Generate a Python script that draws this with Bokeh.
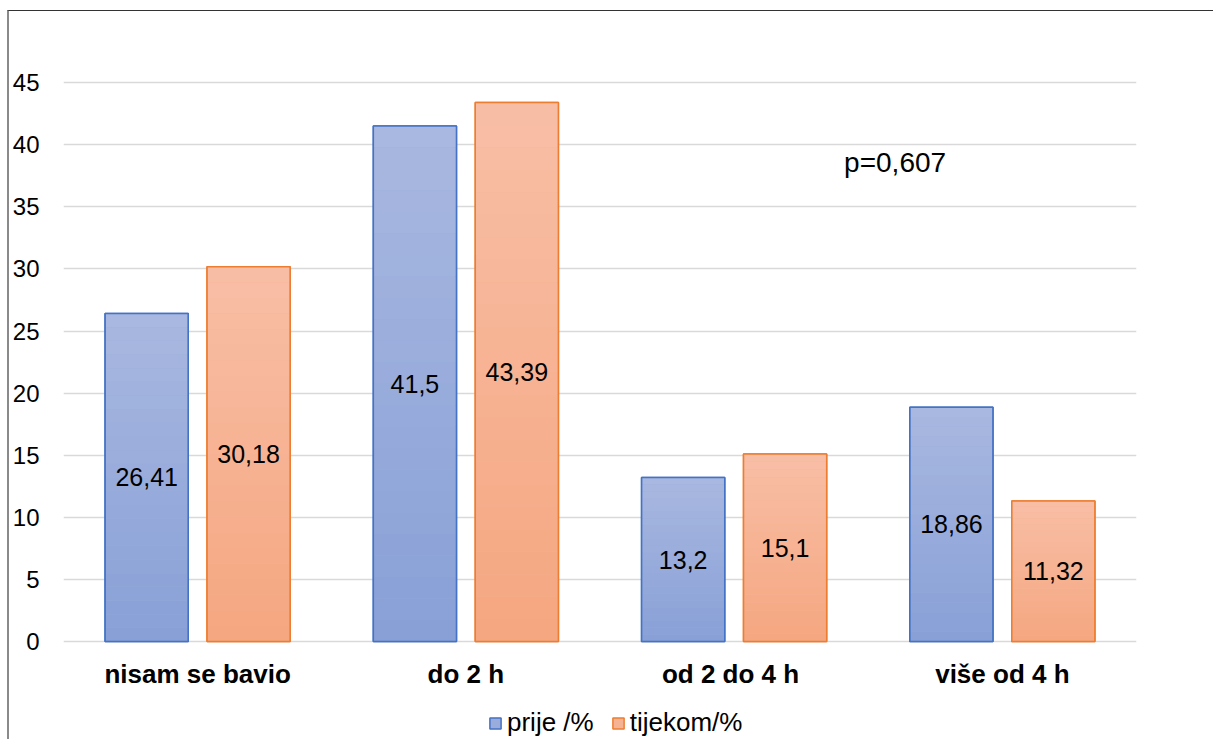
from bokeh.plotting import figure
from bokeh.models import FactorRange, FixedTicker, Legend, LegendItem, Label, ColumnDataSource
from bokeh.transform import dodge
from bokeh.core.properties import value
from bokeh.embed import file_html
from bokeh.resources import INLINE

categories = ["nisam se bavio", "do 2 h", "od  2 do 4 h", "više od 4 h"]
prije = [26.41, 41.5, 13.2, 18.86]
tijekom = [30.18, 43.39, 15.1, 11.32]
y_ticks = [0, 5, 10, 15, 20, 25, 30, 35, 40, 45]
series_names = ["prije /%", "tijekom/%"]
p_text = "p=0,607"

FONT = "Liberation Sans"

p = figure(x_range=FactorRange(*categories, range_padding=0), y_range=(-7.89, 50),
           frame_width=1073, frame_height=719, output_backend="svg", toolbar_location=None,
           min_border_left=54, min_border_right=77, min_border_top=9, min_border_bottom=0)
p.styles = {"border-left": "2px solid #8a8a8a", "border-top": "1px solid #333333",
            "margin-left": "7px", "margin-top": "10px"}
p.outline_line_color = None
p.background_fill_color = "white"

def lerp(c1, c2, t):
    return "#%02x%02x%02x" % tuple(int(round(a + (b - a) * t)) for a, b in zip(c1, c2))

styles = [
    dict(top=(0xA9, 0xB8, 0xE0), bot=(0x88, 0xA0, 0xD7), line="#4472C4", off=-0.19, mid="#99ACDB"),
    dict(top=(0xF8, 0xBF, 0xA6), bot=(0xF5, 0xA6, 0x80), line="#ED7D31", off=0.19, mid="#F6B394"),
]
width = 0.31
N = 24
base_renderers = []
for vals, st in zip([prije, tijekom], styles):
    src = ColumnDataSource(dict(cat=categories, val=vals,
                                lab=[("%g" % v).replace(".", ",") for v in vals],
                                mid=[v / 2 for v in vals]))
    r = p.vbar(x=dodge("cat", st["off"], range=p.x_range), top="val", width=width, source=src,
               fill_color=st["mid"], line_color=st["line"], line_width=1.5)
    base_renderers.append(r)
    xs, bots, tops, cols = [], [], [], []
    for c, v in zip(categories, vals):
        for k in range(N):
            xs.append(c)
            bots.append(v * k / N)
            tops.append(v * (k + 1) / N)
            cols.append(lerp(st["bot"], st["top"], (k + 0.5) / N))
    gsrc = ColumnDataSource(dict(cat=xs, b=bots, t=tops, col=cols))
    p.vbar(x=dodge("cat", st["off"], range=p.x_range), bottom="b", top="t", width=width - 0.004,
           source=gsrc, fill_color="col", line_color=None)
    p.vbar(x=dodge("cat", st["off"], range=p.x_range), top="val", width=width, source=src,
           fill_alpha=0, line_color=st["line"], line_width=1.5)
    p.text(x=dodge("cat", st["off"], range=p.x_range), y="mid", text="lab", source=src,
           text_align="center", text_baseline="middle", text_font_size="25px",
           text_color="black", text_font=value(FONT))

# category labels under the bars (drawn in the frame, below zero)
cat_src = ColumnDataSource(dict(cat=categories, y=[-2.58] * len(categories)))
p.text(x="cat", y="y", text="cat", source=cat_src, text_align="center", text_baseline="middle",
       text_font_size="26px", text_font_style="bold", text_color="black", text_font=value(FONT))

p.yaxis.ticker = FixedTicker(ticks=y_ticks)
p.yaxis.axis_line_color = None
p.yaxis.major_tick_line_color = None
p.yaxis.minor_tick_line_color = None
p.yaxis.major_label_text_font = FONT
p.yaxis.major_label_text_font_size = "24px"
p.yaxis.major_label_text_color = "black"
p.yaxis.major_label_standoff = 18

p.xaxis.visible = False

p.xgrid.grid_line_color = None
p.ygrid.grid_line_color = "#D9D9D9"
p.ygrid.grid_line_width = 1.5
p.ygrid.ticker = FixedTicker(ticks=y_ticks)

lab = Label(x=2.91, y=38.6, text=p_text, text_font=FONT, text_font_size="28px",
            text_color="black", text_baseline="middle", text_align="left")
p.add_layout(lab)

legend = Legend(items=[LegendItem(label=series_names[0], renderers=[base_renderers[0]]),
                       LegendItem(label=series_names[1], renderers=[base_renderers[1]])],
                orientation="horizontal", location=(425, 1),
                label_text_font=FONT, label_text_font_size="26px", label_text_color="black",
                glyph_width=14, glyph_height=14, label_standoff=5, spacing=17, label_height=26,
                border_line_color=None, background_fill_alpha=0, padding=0, margin=0)
p.add_layout(legend)

open("out.html", "w").write(file_html(p, INLINE))
